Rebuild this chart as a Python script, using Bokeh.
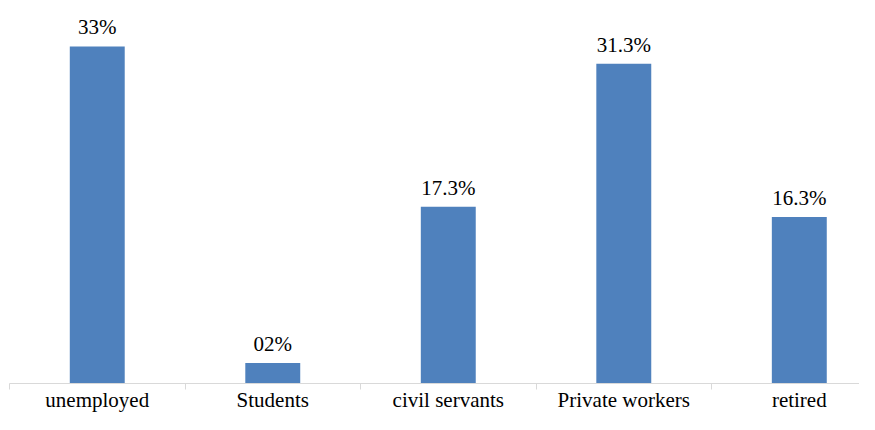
from bokeh.plotting import figure
from bokeh.models import ColumnDataSource, FixedTicker, Range1d
from bokeh.core.properties import value
from bokeh.embed import file_html
from bokeh.resources import INLINE

categories = ["unemployed", "Students", "civil servants", "Private workers", "retired"]
percent = [33, 2, 17.3, 31.3, 16.3]
value_labels = ["33%", "02%", "17.3%", "31.3%", "16.3%"]

FONT = "Liberation Serif"

xs = [i + 0.5 for i in range(len(categories))]
src = ColumnDataSource(dict(x=xs, top=percent, lab=value_labels))

p = figure(width=859, height=414, output_backend="svg", toolbar_location=None,
           x_range=Range1d(0, 4.843), y_range=Range1d(0, 37.5),
           min_border_left=9, min_border_right=0, min_border_top=0, min_border_bottom=0)

p.vbar(x="x", top="top", width=0.313, bottom=0, source=src, color="#4f81bd", line_color=None)
p.text(x="x", y="top", text="lab", source=src, text_align="center", text_baseline="alphabetic",
       y_offset=-19, text_font=value(FONT), text_font_size="21px", text_color="#000000")

p.yaxis.visible = False
p.xgrid.grid_line_color = None
p.ygrid.grid_line_color = None
p.outline_line_color = None

ax = p.xaxis[0]
ax.ticker = FixedTicker(ticks=xs, minor_ticks=list(range(len(categories) + 1)))
ax.major_label_overrides = {x: c for x, c in zip(xs, categories)}
ax.major_tick_line_color = None
ax.major_tick_out = 0
ax.major_tick_in = 0
ax.minor_tick_line_color = "#d9d9d9"
ax.minor_tick_out = 6
ax.minor_tick_in = 0
ax.axis_line_color = "#d9d9d9"
ax.axis_line_width = 1
ax.major_label_standoff = -2
ax.major_label_text_font = FONT
ax.major_label_text_font_size = "21px"
ax.major_label_text_color = "#000000"

open("out.html", "w").write(file_html(p, INLINE))
